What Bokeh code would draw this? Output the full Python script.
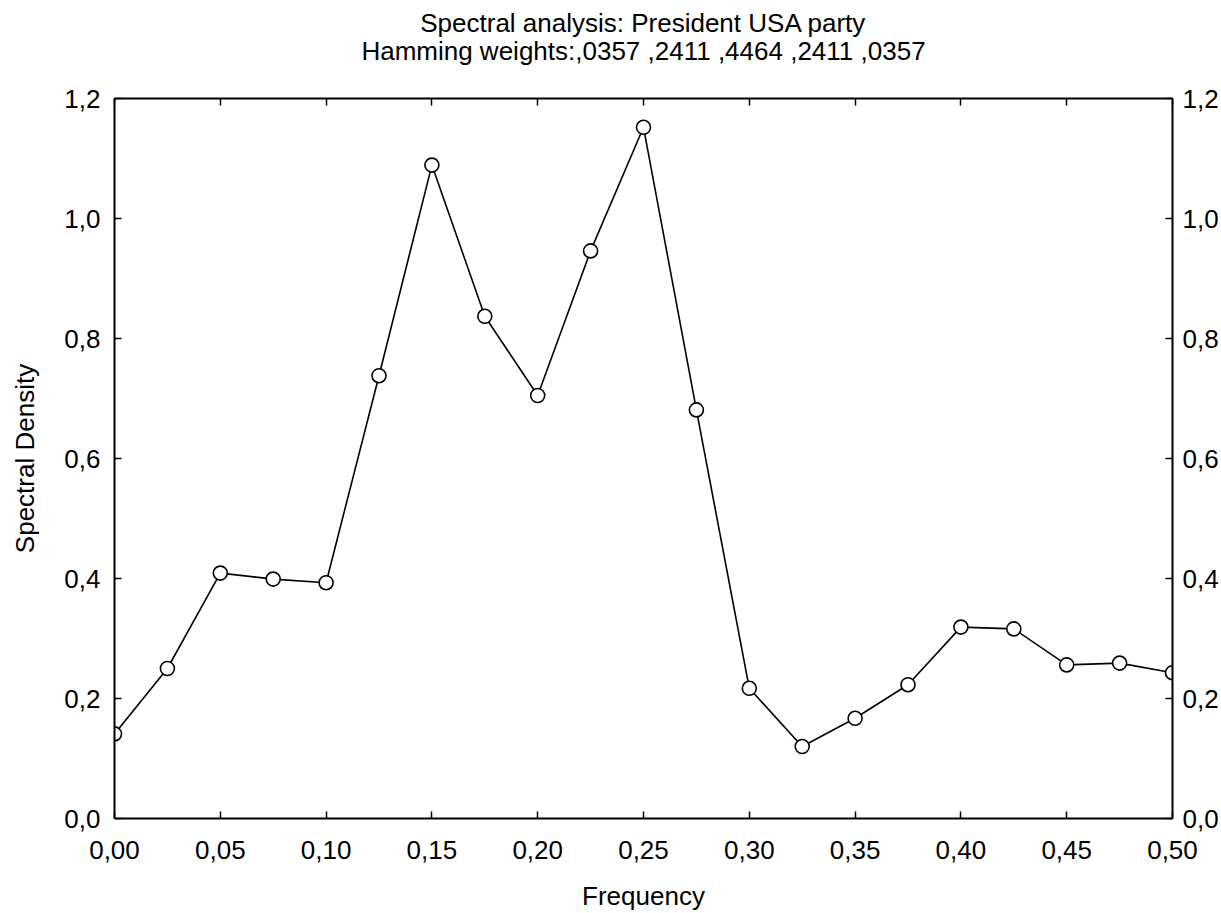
from bokeh.plotting import figure
from bokeh.models import LinearAxis, FixedTicker, CustomJSTickFormatter, Title
from bokeh.embed import file_html
from bokeh.resources import INLINE

# ---- data ----
frequency = [0.000, 0.025, 0.050, 0.075, 0.100, 0.125, 0.150, 0.175, 0.200, 0.225,
             0.250, 0.275, 0.300, 0.325, 0.350, 0.375, 0.400, 0.425, 0.450, 0.475, 0.500]
density = [0.141, 0.250, 0.409, 0.399, 0.393, 0.738, 1.089, 0.837, 0.705, 0.946,
           1.152, 0.681, 0.217, 0.120, 0.167, 0.223, 0.319, 0.316, 0.256, 0.259, 0.243]
x_ticks = [0.0, 0.05, 0.10, 0.15, 0.20, 0.25, 0.30, 0.35, 0.40, 0.45, 0.50]
y_ticks = [0.0, 0.2, 0.4, 0.6, 0.8, 1.0, 1.2]
title_1 = "Spectral analysis: President USA party"
title_2 = "Hamming weights:,0357 ,2411 ,4464 ,2411 ,0357"
x_title = "Frequency"
y_title = "Spectral Density"

FONT = "Liberation Sans"
FS = "26px"

W, H = 1221, 913
L, R, T, B = 114, 1172, 93, 820

p = figure(width=W, height=H, x_range=(0, 0.5), y_range=(0, 1.2),
           output_backend="svg", toolbar_location=None,
           min_border_left=L, min_border_right=W - R,
           min_border_top=T, min_border_bottom=H - B)
p.grid.visible = False
p.outline_line_color = None
p.background_fill_color = "white"
p.border_fill_color = "white"

xfmt = CustomJSTickFormatter(code="return tick.toFixed(2).replace('.', ',');")
yfmt = CustomJSTickFormatter(code="return tick.toFixed(1).replace('.', ',');")


def style(ax, ticks, fmt):
    ax.ticker = FixedTicker(ticks=ticks)
    ax.formatter = fmt
    ax.axis_line_color = "black"
    ax.axis_line_width = 2
    ax.major_tick_line_color = "black"
    ax.major_tick_line_width = 1.5
    ax.major_tick_in = 7
    ax.major_tick_out = 0
    ax.minor_tick_line_color = None
    ax.major_label_text_font = FONT
    ax.major_label_text_font_size = FS
    ax.major_label_text_color = "black"
    ax.axis_label_text_font = FONT
    ax.axis_label_text_font_size = FS
    ax.axis_label_text_font_style = "normal"
    ax.axis_label_text_color = "black"


xb = p.xaxis[0]
style(xb, x_ticks, xfmt)
xb.axis_label = x_title
xb.major_label_standoff = 22
xb.axis_label_standoff = 19

yl = p.yaxis[0]
style(yl, y_ticks, yfmt)
yl.axis_label = y_title
yl.major_label_standoff = 14
yl.axis_label_standoff = 21

yr = LinearAxis()
style(yr, y_ticks, yfmt)
yr.major_label_standoff = 10
p.add_layout(yr, "right")

# top axis: ticks only
xt = LinearAxis()
style(xt, x_ticks, xfmt)
xt.major_label_text_font_size = "1px"
xt.major_label_text_color = None
xt.major_label_standoff = 0
p.add_layout(xt, "above")

p.add_layout(Title(text=title_2, align="center", text_font=FONT, text_font_size=FS,
                   text_font_style="normal", text_color="black", standoff=66), "above")
p.add_layout(Title(text=title_1, align="center", text_font=FONT, text_font_size=FS,
                   text_font_style="normal", text_color="black", standoff=-74), "above")

p.line(frequency, density, line_color="black", line_width=1.6)
p.scatter(frequency, density, marker="circle", size=14, fill_color="white",
          line_color="black", line_width=1.6)

open("out.html", "w").write(file_html(p, INLINE))
